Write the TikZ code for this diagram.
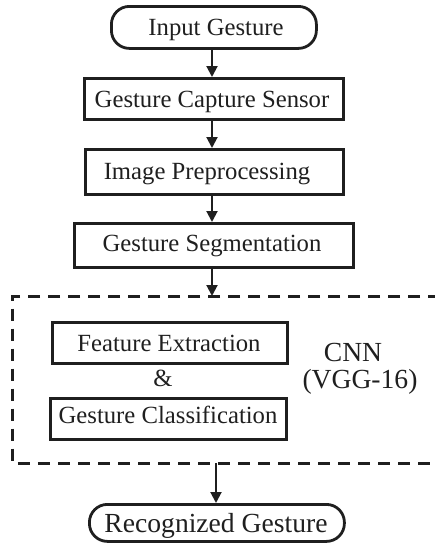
\documentclass[tikz,border=0pt]{standalone}
\usepackage{fontspec}
\setmainfont{Liberation Serif}
\usetikzlibrary{arrows.meta,calc}
\begin{document}
\begin{tikzpicture}[x=1pt,y=-1pt,
  font=\fontsize{24.7}{29}\selectfont,
  boxst/.style={draw=black!88,line width=3.2pt,inner sep=0pt,anchor=north west},
  stad/.style={draw=black!88,line width=2.8pt,rounded corners=18pt,inner sep=0pt,anchor=north west},
  arr/.style={draw=black!88,line width=2pt,-{Triangle[length=11pt,width=11pt]}},
  lbl/.style={inner sep=0pt,text=black!88,anchor=base},
  big/.style={font=\fontsize{27.6}{32}\selectfont}]
\useasboundingbox (0,0) rectangle (435,550);
% nodes (boxes)
\node[stad,minimum width=205pt,minimum height=42pt] (in) at (110,5) {};
\node[lbl] (tin) at (216,35) {Input Gesture};
\node[boxst,minimum width=259pt,minimum height=41pt] (gcs) at (83,77) {};
\node[lbl] (tgcs) at (212,107) {Gesture Capture Sensor};
\node[boxst,minimum width=258pt,minimum height=45pt] (ip) at (84,148) {};
\node[lbl] (tip) at (207,179) {Image Preprocessing};
\node[boxst,minimum width=279pt,minimum height=44pt] (gs) at (73,222) {};
\node[lbl] (tgs) at (212,251) {Gesture Segmentation};
\node[boxst,minimum width=235pt,minimum height=41pt] (fe) at (51,321) {};
\node[lbl] (tfe) at (169,351) {Feature Extraction};
\node[lbl] (amp) at (163,386) {\&};
\node[boxst,minimum width=236pt,minimum height=41pt] (gc) at (49,397) {};
\node[lbl] (tgc) at (168,423) {Gesture Classification};
\node[lbl,big] (cnn) at (353,361) {CNN};
\node[lbl,big] (vgg) at (360,388) {(VGG-16)};
\node[stad,minimum width=255pt,minimum height=37pt] (rg) at (88,503) {};
\node[lbl,big] (trg) at (216,532) {Recognized Gesture};
% dashed container (open on the right, cut by the page edge)
\coordinate (dtop) at (212,296);
\coordinate (dbot) at (216,463);
\draw[black!88,line width=3pt,dash pattern=on 12pt off 8pt]
  (440,296) -- (12.5,296) -- (12.5,463) -- (440,463);
% connectors
\draw[arr] (in.south -| 212,0) -- (gcs.north -| 212,0);
\draw[arr] (gcs.south -| 212,0) -- (ip.north -| 212,0);
\draw[arr] (ip.south -| 212,0) -- (gs.north -| 212,0);
\draw[arr] (gs.south -| dtop) -- (dtop);
\draw[arr] (dbot) -- (rg.north -| dbot);
\end{tikzpicture}
\end{document}
